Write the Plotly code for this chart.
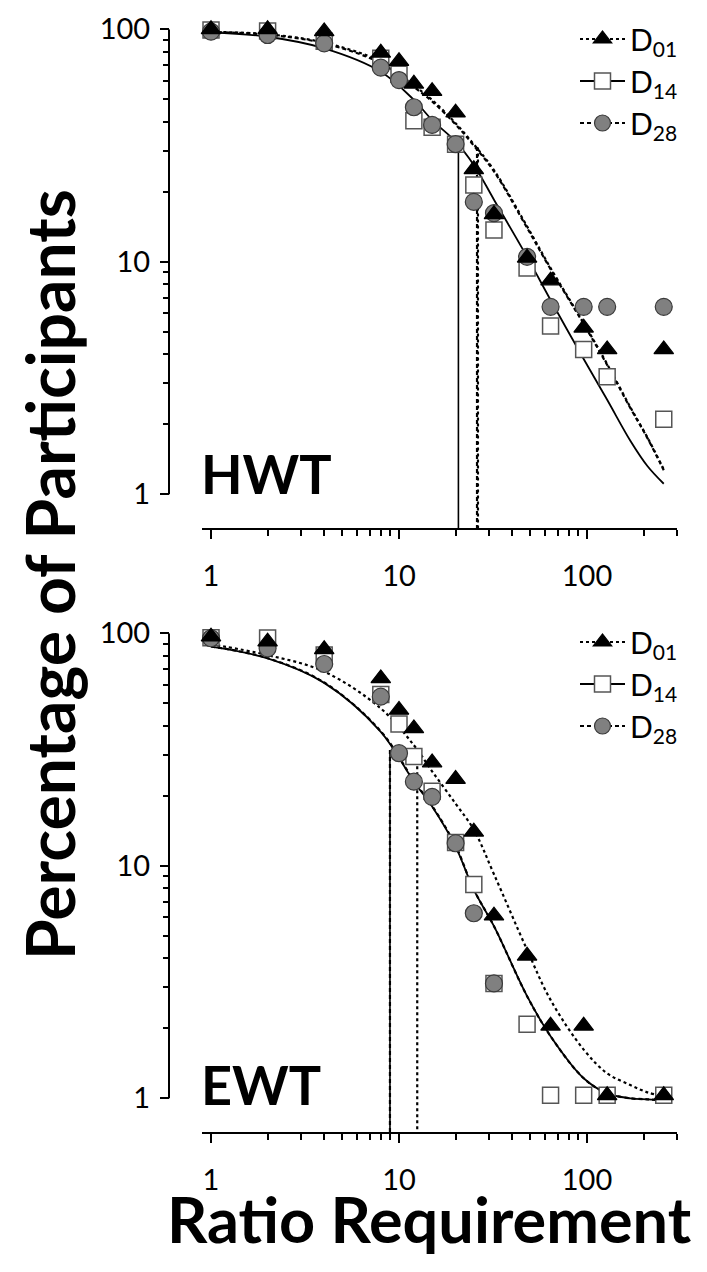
import math
import plotly.graph_objects as go

W, H = 707, 1272
FONT = "Lato"

# Ratio requirements tested in both tasks
ratio = [1, 2, 4, 8, 10, 12, 15, 20, 25, 32, 48, 64, 96, 128, 256]

# HWT: percentage of participants still responding at each ratio
hwt_d01 = [100, 100, 97.9, 79.2, 72.9, 58.3, 54.2, 43.8, 25.0, 16.0, 10.4, 8.3, 5.2, 4.2, 4.2]
hwt_d14 = [99.3, 98.3, 88.8, 75.0, 64.0, 40.4, 37.9, 32.0, 21.4, 13.7, 9.4, 5.3, 4.2, 3.2, 2.1]
hwt_d28 = [97.7, 94.5, 87.0, 68.4, 60.5, 46.2, 38.8, 32.1, 18.1, 16.2, 10.5, 6.4, 6.4, 6.4, 6.4]

# EWT: percentage of participants still responding at each ratio
ewt_d01 = [96.7, 92.0, 85.3, 64.0, 46.8, 39.0, 27.8, 23.6, 14.0, 6.1, 4.1, 2.05, 2.05, 1.03, 1.03]
ewt_d14 = [95.7, 95.4, 80.6, 54.5, 40.7, 29.5, 20.9, 12.6, 8.3, 3.12, 2.08, 1.03, 1.03, 1.03, 1.03]
ewt_d28 = [95.2, 86.2, 73.8, 53.4, 30.5, 23.0, 19.8, 12.5, 6.25, 3.12, None, None, None, None, None]

# Fitted demand curves, sampled along the ratio axis
curve_x = [1, 2, 4, 8, 12, 15, 20, 25, 32, 48, 64, 96, 128, 170, 210, 256]
hwt_fit_d01 = [97.5, 95.2, 87.6, 72.6, 57.3, 49.7, 39.4, 32.0, 24.8, 14.2, 9.4, 5.45, 3.63, 2.37, 1.75, 1.28]
hwt_fit_d14 = [97.0, 92.9, 82.8, 65.7, 49.7, 40.7, 32.9, 26.1, 18.5, 10.5, 6.85, 3.82, 2.55, 1.7, 1.32, 1.11]
hwt_fit_d28 = [97.3, 94.8, 87.0, 71.5, 56.5, 49.0, 39.0, 31.6, 24.5, 14.0, 9.3, 5.4, 3.6, 2.35, 1.74, 1.27]
ewt_fit_d01 = [89.7, 80.6, 68.4, 47.5, 33.0, 25.5, 18.5, 14.3, 9.2, 4.35, 2.65, 1.62, 1.28, 1.14, 1.06, 1.02]
ewt_fit_d14 = [87.6, 78.0, 61.2, 37.7, 23.0, 18.0, 12.1, 7.87, 5.5, 2.75, 1.85, 1.22, 1.05, 1.0, 0.99, 0.98]
ewt_fit_d28 = [87.8, 78.2, 61.4, 37.9, 23.2, 18.1, 12.2, 7.9, 5.5, 2.75, 1.85, 1.22, 1.05, 1.0, 0.99, 0.98]

# Pmax drop lines: ratio where each drop line sits and curve height there
hwt_pmax = {"D01": (26.3, 31.0), "D14": (20.7, 31.3), "D28": (26.0, 31.2)}
ewt_pmax = {"D01": (12.5, 32.0), "D14": (8.95, 31.5), "D28": (8.95, 31.5)}

series_names = ["D<sub>01</sub>", "D<sub>14</sub>", "D<sub>28</sub>"]

# Axis geometry (pixels) for the two stacked panels
X_LEFT, X_RIGHT = 201.8, 676.7
Y_AXIS_X = 169
PANELS = [(29.3, 528.0), (633.3, 1132.0)]
Y_RANGE = [-0.145, 2]
X_RANGE = [-0.049, math.log10(300)]

styles = {
    "D01": dict(symbol="triangle-up", size=17, color="black", line=dict(color="black", width=1.2),
                dash="dot", lw=2.2),
    "D14": dict(symbol="square", size=16, color="white", line=dict(color="#555555", width=1.5),
                dash="solid", lw=1.8),
    "D28": dict(symbol="circle", size=17, color="#808080", line=dict(color="#3a3a3a", width=1.2),
                dash="4px,3px", lw=2.2),
}

fig = go.Figure()


def add_panel(idx, data, fits, pmax, legend_id):
    xa = "x" if idx == 0 else "x2"
    ya = "y" if idx == 0 else "y2"
    keys = ["D01", "D14", "D28"]
    # fitted curves
    for k, fy in zip(keys, fits):
        st = styles[k]
        fig.add_trace(go.Scatter(x=curve_x, y=fy, mode="lines", xaxis=xa, yaxis=ya,
                                 line=dict(color="black", width=st["lw"], dash=st["dash"],
                                           shape="spline", smoothing=1.0),
                                 showlegend=False, hoverinfo="skip"))
    # Pmax drop lines down to the ratio axis
    ymin = 10 ** Y_RANGE[0]
    for k in keys:
        st = styles[k]
        px_, py_ = pmax[k]
        fig.add_trace(go.Scatter(x=[px_, px_], y=[py_, ymin], mode="lines", xaxis=xa, yaxis=ya,
                                 line=dict(color="black", width=st["lw"] if k != "D14" else 1.6,
                                           dash=st["dash"]),
                                 showlegend=False, hoverinfo="skip"))
    # observed points: squares below circles below triangles
    for k, vals in zip(["D14", "D28", "D01"], [data[1], data[2], data[0]]):
        st = styles[k]
        fig.add_trace(go.Scatter(x=ratio, y=vals, mode="markers", xaxis=xa, yaxis=ya,
                                 marker=dict(symbol=st["symbol"], size=st["size"], color=st["color"],
                                             line=st["line"]),
                                 cliponaxis=False, showlegend=False, hoverinfo="skip"))
    # legend entries
    for k, nm in zip(keys, series_names):
        st = styles[k]
        fig.add_trace(go.Scatter(x=[None], y=[None], mode="lines+markers", xaxis=xa, yaxis=ya,
                                 name=nm, legend=legend_id,
                                 line=dict(color="black", width=st["lw"], dash=st["dash"]),
                                 marker=dict(symbol=st["symbol"], size=st["size"], color=st["color"],
                                             line=st["line"])))


add_panel(0, [hwt_d01, hwt_d14, hwt_d28], [hwt_fit_d01, hwt_fit_d14, hwt_fit_d28], hwt_pmax, "legend")
add_panel(1, [ewt_d01, ewt_d14, ewt_d28], [ewt_fit_d01, ewt_fit_d14, ewt_fit_d28], ewt_pmax, "legend2")

tick_font = dict(family=FONT, size=29, color="black")
minor_x = [2, 3, 4, 5, 6, 7, 8, 9, 20, 30, 40, 50, 60, 70, 80, 90, 200, 300]
minor_y = [2, 3, 4, 5, 6, 7, 8, 9, 20, 30, 40, 50, 60, 70, 80, 90]


def xaxis_cfg(anchor):
    return dict(type="log", range=X_RANGE, domain=[X_LEFT / W, X_RIGHT / W], anchor=anchor,
                automargin=False,
                showline=True, linecolor="black", linewidth=2, mirror=False,
                ticks="outside", ticklen=9, tickwidth=2, tickcolor="black",
                tickvals=[1, 10, 100], ticktext=["1", "10", "100"], tickfont=tick_font,
                ticklabelstandoff=12,
                minor=dict(tickvals=minor_x, ticks="outside", ticklen=6, tickwidth=1.5,
                           tickcolor="black", showgrid=False),
                showgrid=False, zeroline=False)


def yaxis_cfg(top, bottom):
    return dict(type="log", range=Y_RANGE, domain=[1 - bottom / H, 1 - top / H],
                anchor="free", position=Y_AXIS_X / W, showline=False, automargin=False,
                ticks="outside", ticklen=9, tickwidth=2, tickcolor="black",
                tickvals=[1, 10, 100], ticktext=["1", "10", "100"], tickfont=tick_font,
                ticklabelstandoff=4,
                minor=dict(tickvals=minor_y, ticks="outside", ticklen=6, tickwidth=1.5,
                           tickcolor="black", showgrid=False),
                showgrid=False, zeroline=False)


# y-axis spine drawn only between 1 and 100
shapes = []
for yref in ["y", "y2"]:
    shapes.append(dict(type="line", xref="paper", yref=yref, x0=Y_AXIS_X / W, x1=Y_AXIS_X / W,
                       y0=1, y1=100, line=dict(color="black", width=2)))

annotations = [
    dict(text="<b>HWT</b>", xref="paper", yref="paper", x=199 / W, y=1 - 474 / H,
         xanchor="left", yanchor="middle", showarrow=False,
         font=dict(family=FONT, size=54, color="black")),
    dict(text="<b>EWT</b>", xref="paper", yref="paper", x=199 / W, y=1 - 1084 / H,
         xanchor="left", yanchor="middle", showarrow=False,
         font=dict(family=FONT, size=54, color="black")),
    dict(text="<b>Percentage of Participants</b>", xref="paper", yref="paper", x=50 / W,
         y=1 - 575 / H, xanchor="center", yanchor="middle", textangle=-90, showarrow=False,
         font=dict(family=FONT, size=66, color="black")),
    dict(text="<b>Ratio Requirement</b>", xref="paper", yref="paper", x=429 / W,
         y=1 - 1218 / H, xanchor="center", yanchor="middle", showarrow=False,
         font=dict(family=FONT, size=63, color="black")),
]

legend_common = dict(xanchor="left", yanchor="top", bgcolor="rgba(0,0,0,0)",
                     font=dict(family=FONT, size=30, color="black"), itemwidth=45,
                     tracegroupgap=0, itemclick=False, itemdoubleclick=False)

fig.update_layout(
    width=W, height=H, margin=dict(l=0, r=0, t=0, b=0, autoexpand=False),
    paper_bgcolor="white", plot_bgcolor="white",
    xaxis=xaxis_cfg("y"), yaxis=yaxis_cfg(*PANELS[0]),
    xaxis2=xaxis_cfg("y2"), yaxis2=yaxis_cfg(*PANELS[1]),
    shapes=shapes, annotations=annotations,
    legend=dict(x=575 / W, y=1 - 13 / H, **legend_common),
    legend2=dict(x=575 / W, y=1 - 616 / H, **legend_common),
    font=dict(family=FONT, color="black"),
)

fig.write_html("out.html")
